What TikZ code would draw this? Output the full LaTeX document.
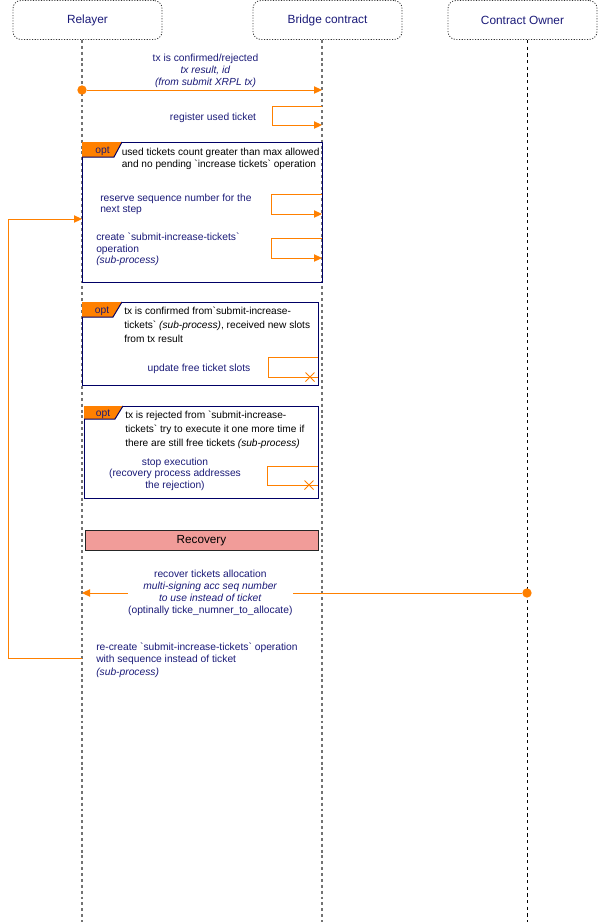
\documentclass[tikz,border=0pt]{standalone}
\usepackage{fontspec}
\setmainfont{Liberation Sans}
\usetikzlibrary{arrows.meta}
\definecolor{navy}{RGB}{26,26,120}
\definecolor{flow}{RGB}{255,128,0}
\definecolor{framec}{RGB}{0,0,102}
\definecolor{recfill}{RGB}{241,156,153}
\newcommand\bq{\textasciigrave}
\begin{document}
\begin{tikzpicture}[x=0.75pt,y=-0.75pt,
  head/.style={draw=black!80, line width=0.6pt, dash pattern=on 0.8pt off 1.2pt,
    rounded corners=6pt, minimum width=111.75pt, minimum height=29.25pt, inner sep=0,
    text=navy, font=\fontsize{8.9}{10}\selectfont},
  life/.style={draw=black!55, line width=1.2pt, dash pattern=on 2.2pt off 2.2pt},
  lifethin/.style={draw=black, line width=0.6pt, dash pattern=on 2.5pt off 2.5pt},
  msg/.style={inner sep=0, text=navy, align=center, font=\fontsize{7.7}{9}\selectfont},
  msgl/.style={msg, align=left, anchor=west},
  cond/.style={inner sep=0, text=black, align=left, anchor=west, font=\fontsize{7.6}{10.5}\selectfont},
  flowline/.style={draw=flow, line width=0.75pt},
  call/.style={flowline, -{Triangle[length=6pt,width=5.5pt]}},
  dot/.style={circle, fill=flow, inner sep=0, minimum size=7pt},
  frame/.style={draw=framec, line width=0.75pt},
  tagfill/.style={fill=flow},
  tagedge/.style={draw=framec, line width=0.75pt},
  tagtext/.style={inner sep=0, text=navy, font=\fontsize{7.7}{9}\selectfont},
  lost/.style={draw=flow, line width=0.75pt}
]
\path[use as bounding box] (0,0) rectangle (598,922);

% participants
\node[head] (relayer) at (87.5,20) {Relayer};
\node[head] (bridge)  at (327.5,20) {Bridge contract};
\node[head] (owner)   at (522.5,20) {Contract Owner};

% lifelines
\coordinate (rl-top) at (82,40);   \coordinate (rl-end) at (82,922);
\coordinate (bl-top) at (322,40);  \coordinate (bl-end) at (322,922);
\coordinate (ol-top) at (527,40);  \coordinate (ol-end) at (527,922);
\draw[life] (rl-top) -- (rl-end);
\draw[life] (bl-top) -- (bl-end);
\draw[lifethin] (ol-top) -- (ol-end);

% tx confirmed / rejected
\node[dot] (m1s) at (82,90) {};
\coordinate (m1e) at (322,90);
\draw[call] (m1s) -- (m1e);
\node[msg] (m1t) at (205.5,71) {tx is confirmed/rejected\\ \textit{tx result, id}\\ \textit{(from submit XRPL tx)}};

% register used ticket
\coordinate (s1a) at (322,106); \coordinate (s1b) at (272,106);
\coordinate (s1c) at (272,125); \coordinate (s1d) at (322,125);
\draw[call] (s1a) -- (s1b) -- (s1c) -- (s1d);
\node[msg] (s1t) at (213,117.5) {register used ticket};

% opt frame 1
\draw[frame] (82,142) rectangle (322,282);
\fill[tagfill] (82,142) -- (122,142) -- (114,157) -- (82,157) -- cycle;
\draw[tagedge] (82,157) -- (114,157) -- (122,142);
\node[tagtext] (opt1) at (102.5,151) {opt};
\node[cond, font=\fontsize{7.6}{9}\selectfont] (c1) at (121.5,159)
  {used tickets count greater than max allowed\\and no pending \bq increase tickets\bq\ operation};

\coordinate (s2a) at (322,194); \coordinate (s2b) at (271,194);
\coordinate (s2c) at (271,214); \coordinate (s2d) at (322,214);
\draw[call] (s2a) -- (s2b) -- (s2c) -- (s2d);
\node[msgl, font=\fontsize{7.7}{8.6}\selectfont] (s2t) at (100,204.5)
  {reserve sequence number for the\\next step};

\coordinate (s3a) at (322,238); \coordinate (s3b) at (271,238);
\coordinate (s3c) at (271,258); \coordinate (s3d) at (322,258);
\draw[call] (s3a) -- (s3b) -- (s3c) -- (s3d);
\node[msgl, font=\fontsize{7.7}{8.6}\selectfont] (s3t) at (96,249.5)
  {create \bq submit-increase-tickets\bq\\operation\\\textit{(sub-process)}};

% opt frame 2
\draw[frame] (82,302) rectangle (318,385);
\fill[tagfill] (82,302) -- (122,302) -- (113,317) -- (82,317) -- cycle;
\draw[tagedge] (82,317) -- (113,317) -- (122,302);
\node[tagtext] (opt2) at (102,311) {opt};
\node[cond] (c2) at (124,325)
  {tx is confirmed from\bq submit-increase-\\tickets\bq\ \textit{(sub-process)}, received new slots\\from tx result};

\coordinate (s4a) at (318,357); \coordinate (s4b) at (268,357);
\coordinate (s4c) at (268,377); \coordinate (s4d) at (318,377);
\draw[lost] (s4a) -- (s4b) -- (s4c) -- (s4d);
\coordinate (x4) at (310,377);
\draw[lost] ([shift={(-4.5,-4.5)}]x4) -- ([shift={(4.5,4.5)}]x4);
\draw[lost] ([shift={(-4.5,4.5)}]x4) -- ([shift={(4.5,-4.5)}]x4);
\node[msg] (s4t) at (199,368.5) {update free ticket slots};

% opt frame 3
\draw[frame] (84,406) rectangle (318,498);
\fill[tagfill] (84,406) -- (123,406) -- (115,419) -- (84,419) -- cycle;
\draw[tagedge] (84,419) -- (115,419) -- (123,406);
\node[tagtext] (opt3) at (103,414) {opt};
\node[cond] (c3) at (125,430)
  {tx is rejected from \bq submit-increase-\\tickets\bq\ try to execute it one more time if\\there are still free tickets \textit{(sub-process)}};

\coordinate (s5a) at (318,466); \coordinate (s5b) at (267,466);
\coordinate (s5c) at (267,485); \coordinate (s5d) at (318,485);
\draw[lost] (s5a) -- (s5b) -- (s5c) -- (s5d);
\coordinate (x5) at (309,485);
\draw[lost] ([shift={(-4.5,-4.5)}]x5) -- ([shift={(4.5,4.5)}]x5);
\draw[lost] ([shift={(-4.5,4.5)}]x5) -- ([shift={(4.5,-4.5)}]x5);
\node[msg, font=\fontsize{7.7}{8.6}\selectfont] (s5t) at (175,474)
  {stop execution\\(recovery process addresses\\the rejection)};

% recovery block
\node[draw=black!85, fill=recfill, line width=0.75pt, minimum width=174.75pt,
  minimum height=15.5pt, inner sep=0, font=\fontsize{8.8}{10}\selectfont] (rec)
  at (201.5,540.5) {Recovery};

% recover tickets allocation
\node[dot] (m2s) at (527,593) {};
\coordinate (m2e) at (82,593);
\draw[call] (m2s) -- (m2e)
  node[msg, fill=white, pos=0.7084, minimum width=123.75pt, minimum height=36pt] (m2t)
  {recover tickets allocation\\ \textit{multi-signing acc seq number}\\ \textit{to use instead of ticket}\\(optinally ticke\_numner\_to\_allocate)};

% re-create operation, looping back
\coordinate (r1a) at (82,658); \coordinate (r1b) at (8,658);
\coordinate (r1c) at (8,219);  \coordinate (r1d) at (82,219);
\draw[call] (r1a) -- (r1b) -- (r1c) -- (r1d);
\node[msgl, font=\fontsize{7.7}{9.3}\selectfont] (r1t) at (96,660)
  {re-create \bq submit-increase-tickets\bq\ operation\\with sequence instead of ticket\\\textit{(sub-process)}};
\end{tikzpicture}
\end{document}
